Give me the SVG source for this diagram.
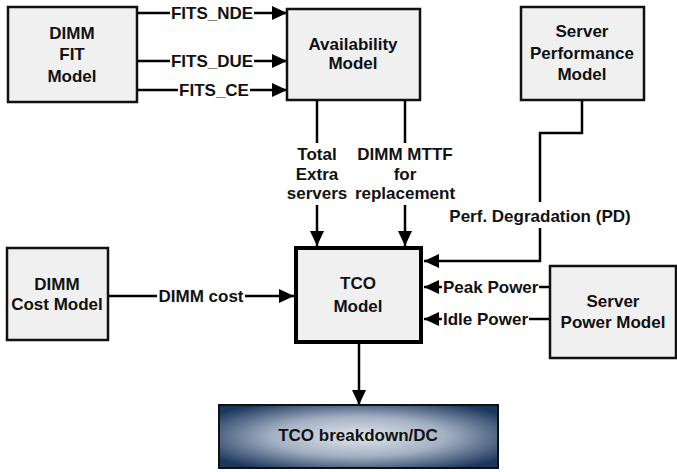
<svg xmlns="http://www.w3.org/2000/svg" width="677" height="472" viewBox="0 0 677 472">
<style>
.box{fill:#f0f0f0;stroke:#111;stroke-width:2.5}
.tco{fill:#f0f0f0;stroke:#000;stroke-width:4}
.t{font-family:"Liberation Sans",Arial,sans-serif;font-weight:bold;font-size:17px;fill:#111;text-anchor:middle}
.ls{font-family:"Liberation Sans",Arial,sans-serif;font-weight:bold;font-size:17px;fill:#111}
.c{fill:none;stroke:#000;stroke-width:2.5}
</style>
<defs>
<marker id="ah" markerUnits="userSpaceOnUse" markerWidth="16" markerHeight="14" refX="15" refY="7" orient="auto">
<path d="M0,0 L15,7 L0,14 z" fill="#000"/>
</marker>
<radialGradient id="g" cx="0.5" cy="0.5" r="0.62">
<stop offset="0" stop-color="#e2e6ec"/>
<stop offset="0.5" stop-color="#a4b1c3"/>
<stop offset="1" stop-color="#1c375c"/>
</radialGradient>
</defs>
<g id="connectors">
<path class="c" d="M137,13 H170"/><path class="c" d="M254,13 H287" marker-end="url(#ah)"/>
<path class="c" d="M137,61 H170"/><path class="c" d="M254,61 H287" marker-end="url(#ah)"/>
<path class="c" d="M137,90 H178"/><path class="c" d="M250,90 H287" marker-end="url(#ah)"/>
<path class="c" d="M317,100 V143"/><path class="c" d="M317,205 V246" marker-end="url(#ah)"/>
<path class="c" d="M405,100 V143"/><path class="c" d="M405,205 V246" marker-end="url(#ah)"/>
<path class="c" d="M582,100 V133 H540 V202"/><path class="c" d="M540,228 V261 H424" marker-end="url(#ah)"/>
<path class="c" d="M108,296 H157"/><path class="c" d="M245,296 H294" marker-end="url(#ah)"/>
<path class="c" d="M550,287 H539"/><path class="c" d="M442,287 H424" marker-end="url(#ah)"/>
<path class="c" d="M550,319 H529"/><path class="c" d="M442,319 H424" marker-end="url(#ah)"/>
<path class="c" d="M359,344 V405" marker-end="url(#ah)"/>
<text class="t" x="212" y="19">FITS_NDE</text>
<text class="t" x="212" y="67">FITS_DUE</text>
<text class="t" x="214" y="96">FITS_CE</text>
<text class="t" x="317" y="160">Total</text>
<text class="t" x="317" y="180">Extra</text>
<text class="t" x="317" y="199">servers</text>
<text class="t" x="405" y="160">DIMM MTTF</text>
<text class="t" x="405" y="180">for</text>
<text class="t" x="405" y="199">replacement</text>
<text class="t" x="540" y="222">Perf. Degradation (PD)</text>
<text class="t" x="201" y="302">DIMM cost</text>
<text class="ls" x="443" y="293">Peak Power</text>
<text class="ls" x="443" y="325">Idle Power</text>
</g>
<g id="dimm-fit">
<rect class="box" x="8" y="7" width="129" height="95"/>
<text class="t" x="72" y="39">DIMM</text>
<text class="t" x="72" y="60">FIT</text>
<text class="t" x="72" y="82">Model</text>
</g>
<g id="availability">
<rect class="box" x="287" y="9" width="133" height="91"/>
<text class="t" x="353" y="50">Availability</text>
<text class="t" x="353" y="69">Model</text>
</g>
<g id="server-performance">
<rect class="box" x="521" y="7" width="123" height="93"/>
<text class="t" x="582" y="37">Server</text>
<text class="t" x="582" y="59">Performance</text>
<text class="t" x="582" y="80">Model</text>
</g>
<g id="dimm-cost">
<rect class="box" x="7" y="248" width="101" height="92"/>
<text class="t" x="57" y="290">DIMM</text>
<text class="t" x="57" y="310">Cost Model</text>
</g>
<g id="tco">
<rect class="tco" x="296" y="248" width="125" height="94"/>
<text class="t" x="358" y="289">TCO</text>
<text class="t" x="358" y="312">Model</text>
</g>
<g id="server-power">
<rect class="box" x="550" y="266" width="126" height="92"/>
<text class="t" x="613" y="307">Server</text>
<text class="t" x="613" y="328">Power Model</text>
</g>
<g id="tco-breakdown">
<rect x="219" y="405" width="279" height="63" fill="url(#g)" stroke="#111" stroke-width="2"/>
<text class="t" x="358" y="441">TCO breakdown/DC</text>
</g>
</svg>
